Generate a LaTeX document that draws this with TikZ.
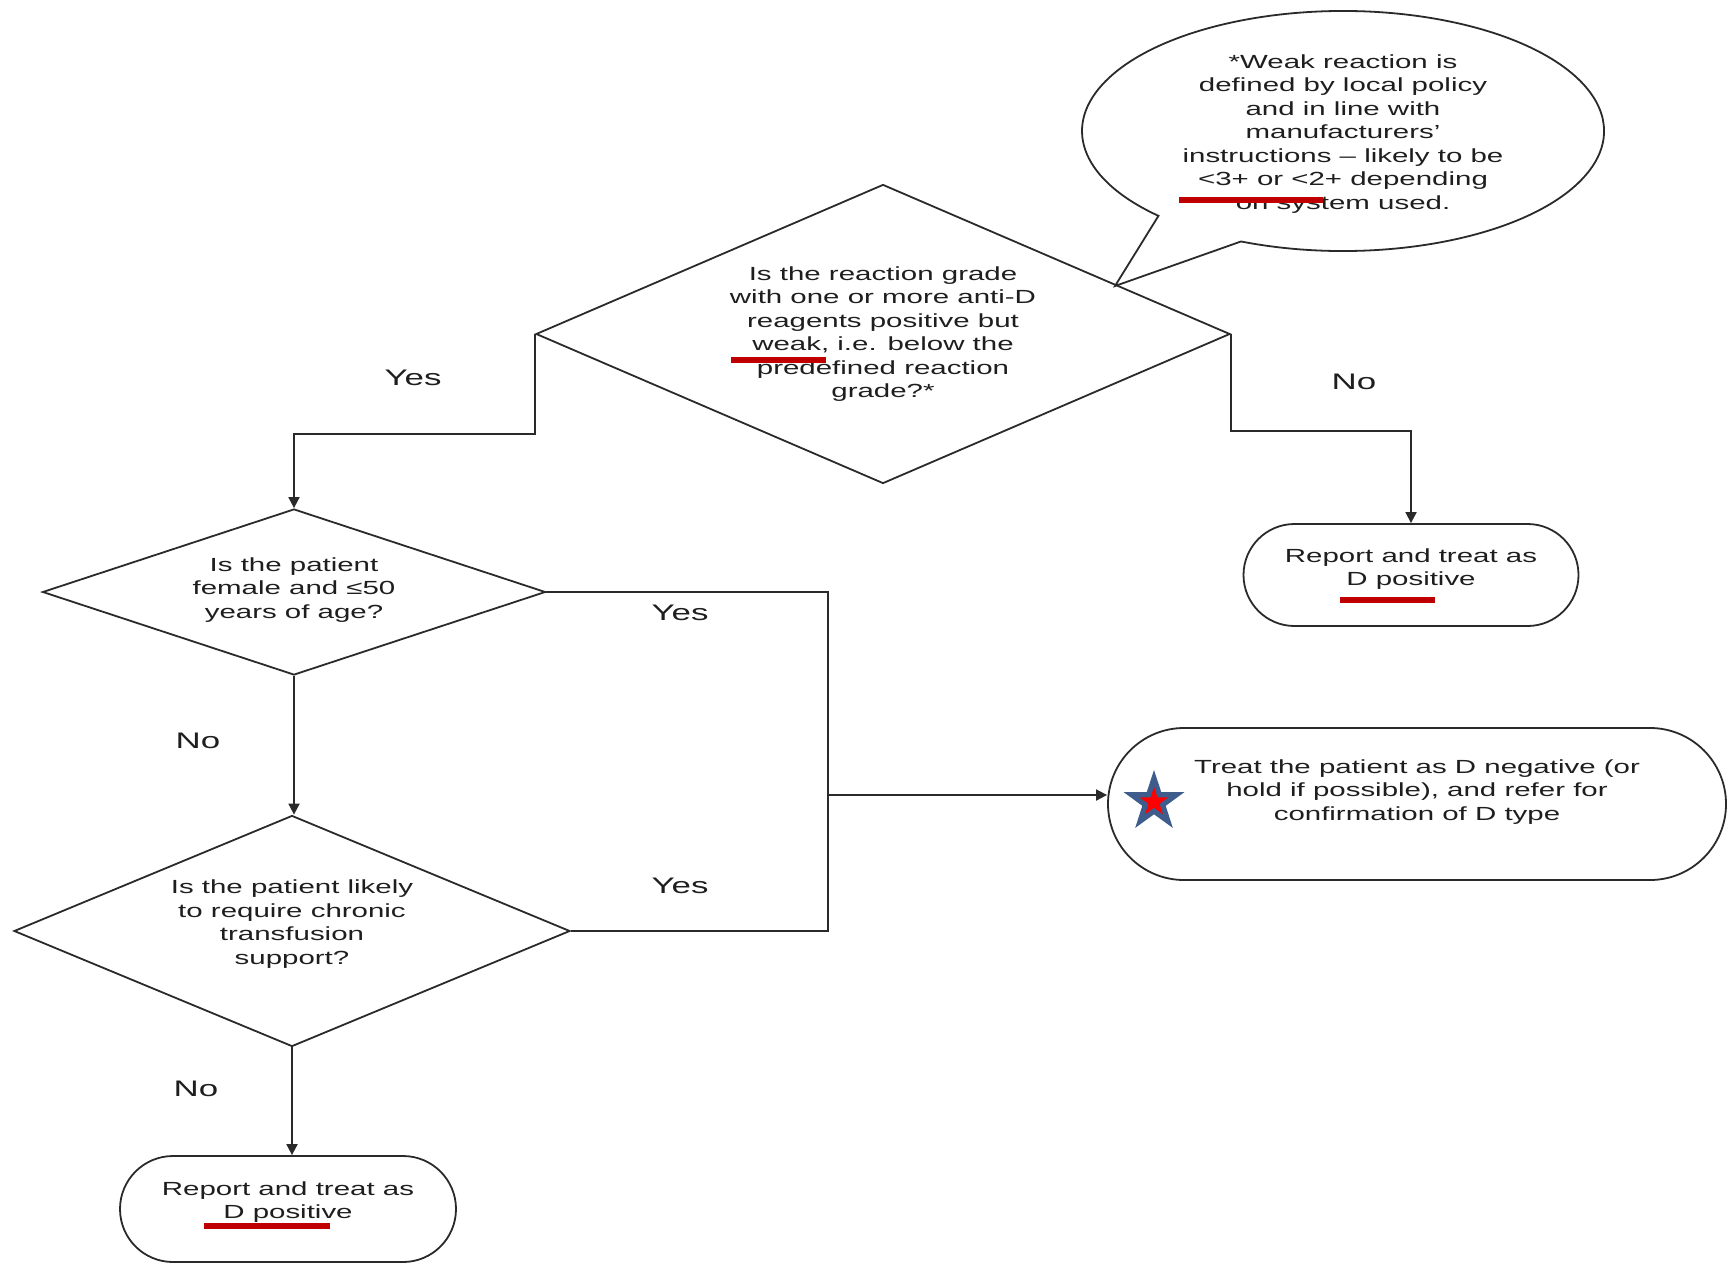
\documentclass[tikz,border=0pt]{standalone}
\usepackage{fontspec}
\setmainfont{Liberation Sans}[FakeStretch=1.55]
\usetikzlibrary{shapes.geometric,shapes.misc,arrows.meta}
\definecolor{ink}{HTML}{1E1E1E}
\definecolor{linec}{HTML}{2A2A2A}
\definecolor{ulred}{HTML}{C00000}
\definecolor{starblue}{HTML}{3E5C8C}
\definecolor{starred}{HTML}{FF0000}
\begin{document}
\begin{tikzpicture}[x=1pt,y=-1pt,
  every node/.style={text=ink, font=\fontsize{19}{23.5}\selectfont},
  qbox/.style={diamond, draw=linec, line width=1.8pt, inner sep=0pt},
  endbox/.style={rounded rectangle, draw=linec, line width=1.8pt, inner sep=0pt},
  txt/.style={align=center, inner sep=0pt},
  lbl/.style={font=\fontsize{22.5}{27}\selectfont, inner sep=0pt},
  link/.style={draw=linec, line width=1.8pt},
  arrow/.style={link, -{Triangle[width=11pt,length=11pt]}},
  uline/.style={draw=ulred, line width=6pt},
  starshape/.style={star, star points=5, star point ratio=2.6, inner sep=0pt, draw=none},
]
\useasboundingbox (0,0) rectangle (1736,1263);

% decision diamonds
\node[qbox, minimum width=694pt, minimum height=299pt] (d1) at (883,334) {};
\node[txt] (d1t) at (d1.center)
  {Is the reaction grade\\with one or more anti-D\\reagents positive but\\weak, i.e. below the\\predefined reaction\\grade?*};
\node[qbox, minimum width=503pt, minimum height=166pt] (d2) at (294,592) {};
\node[txt] (d2t) at ([yshift=2pt]d2.center) {Is the patient\\female and ≤50\\years of age?};
\node[qbox, minimum width=556pt, minimum height=231pt] (d3) at (292,931) {};
\node[txt] (d3t) at ([yshift=7pt]d3.center) {Is the patient likely\\to require chronic\\transfusion\\support?};

% terminal boxes
\node[endbox, minimum width=335pt, minimum height=102pt] (rbox) at (1411,575) {};
\node[txt] (rtext) at ([yshift=6pt]rbox.center) {Report and treat as\\D positive};
\node[endbox, minimum width=618pt, minimum height=152pt] (tbox) at (1417,804) {};
\node[txt] (ttext) at ([yshift=12pt]tbox.center) {Treat the patient as D negative (or\\hold if possible), and refer for\\confirmation of D type};
\node[endbox, minimum width=336pt, minimum height=106pt] (bbox) at (288,1209) {};
\node[txt] (btext) at ([yshift=7pt]bbox.center) {Report and treat as\\D positive};

% speech bubble
\coordinate (bc) at (1343,131);
\coordinate (tip) at (1115,286);
\draw[link] (bc) ++(113:261 and 120) arc[start angle=113, end angle=-225, x radius=261, y radius=120] -- (tip) -- cycle;
\node[txt] (note) at (1343,134)
  {*Weak reaction is\\defined by local policy\\and in line with\\manufacturers'\\instructions -- likely to be\\<3+ or <2+ depending\\on system used.};

% star
\node[starshape, fill=starblue, minimum size=64pt] (star1) at (1154,802) {};
\node[starshape, fill=starred, minimum size=30pt] (star2) at (star1.center) {};

% connectors
\draw[arrow] (d1.west) -- ++(0,100) -| (d2.north);
\draw[arrow] (d1.east) -- ++(0,97) -| (rbox.north);
\coordinate (j2) at (828,931);
\coordinate (j3) at (828,795);
\draw[link] (d2.east) -| (j2) -- (d3.east);
\draw[arrow] (j3) -- (j3 -| tbox.west);
\draw[arrow] (d2.south) -- (d2.south |- d3.north);
\draw[arrow] (d3.south) -- (d3.south |- bbox.north);

% labels
\node[lbl] (yes1) at (413,378) {Yes};
\node[lbl] (no1) at (1354,382) {No};
\node[lbl] (yes2) at (680,613) {Yes};
\node[lbl] (no2) at (198,741) {No};
\node[lbl] (yes3) at (680,886) {Yes};
\node[lbl] (no3) at (196,1089) {No};

% red underlines
\draw[uline] (731,360) -- (826,360);
\draw[uline] (1179,200) -- (1323,200);
\draw[uline] (1340,600) -- (1435,600);
\draw[uline] (204,1226) -- (330,1226);
\end{tikzpicture}
\end{document}
